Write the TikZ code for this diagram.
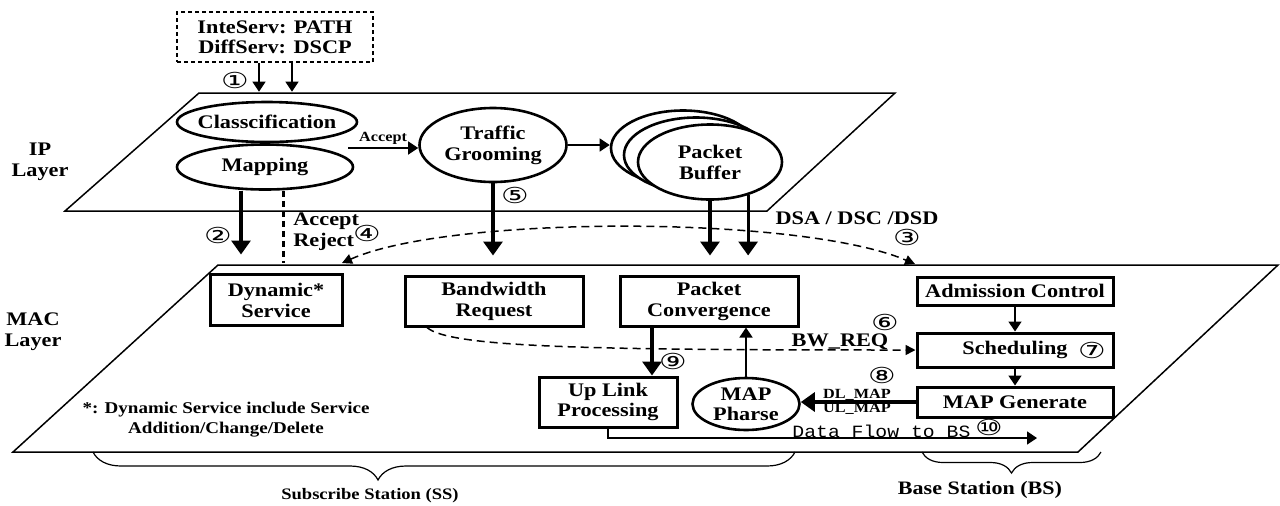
\documentclass[tikz,border=0pt]{standalone}
\usepackage{fontspec}
\setmainfont{Liberation Serif}[FakeStretch=1.16]
\setmonofont{Liberation Mono}[FakeStretch=1.15]
\newfontfamily\circfont{DejaVu Sans}[FakeStretch=1.4]
\usetikzlibrary{arrows.meta,shapes.geometric,decorations.pathreplacing}

\tikzset{
  lbl/.style={font=\bfseries\fontsize{9.6}{10.5}\selectfont, align=center, inner sep=0pt},
  small/.style={font=\bfseries\fontsize{7}{7}\selectfont, align=center, inner sep=0pt},
  num/.style={font=\circfont\fontsize{11}{11}\selectfont, inner sep=0pt},
  box/.style={lbl, draw, line width=1.5pt, fill=white},
  oval/.style={lbl, draw, ellipse, line width=1.3pt, fill=white},
  plane/.style={line width=0.75pt},
  arr/.style={line width=0.75pt, -{Triangle[length=5pt,width=6.5pt]}},
  fat/.style={line width=1.6pt, -{Triangle[length=7pt,width=9.5pt]}},
  dashline/.style={line width=0.75pt, dash pattern=on 4pt off 2.5pt},
  bracket/.style={line width=0.6pt, decorate},
}

\begin{document}
\begin{tikzpicture}[x=0.5pt, y=-0.5pt]
\useasboundingbox (0,0) rectangle (1280,505);

\draw[plane] (199,93) -- (895,93) -- (767,211) -- (65,211) -- cycle;
\draw[plane] (218,265) -- (1278,265) -- (1078,452) -- (13,452) -- cycle;

\node[lbl] (iplayer) at (40,162) {IP\\Layer};
\node[lbl] (maclayer) at (33,332) {MAC\\Layer};

\node[lbl, draw, line width=0.8pt, dash pattern=on 2pt off 1.5pt, minimum width=98pt, minimum height=25pt, font=\bfseries\fontsize{9.6}{10}\selectfont] (qos) at (275,37) {InteServ: PATH\\DiffServ: DSCP};

\node[oval, minimum width=90pt, minimum height=20pt, inner xsep=-4pt] (classif) at (267,122) {Classcification};
\node[oval, minimum width=88pt, minimum height=22.5pt] (mapping) at (265,167) {Mapping};
\node[oval, minimum width=73.5pt, minimum height=37pt] (groom) at (493,145) {Traffic\\Grooming};
\node[oval, minimum width=72pt, minimum height=37.5pt] (bufback) at (683,148) {};
\node[oval, minimum width=72pt, minimum height=37.5pt] (bufmid) at (696,155) {};
\node[oval, minimum width=72pt, minimum height=37.5pt] (buffer) at (710,162) {Packet\\Buffer};

\node[box, minimum width=66pt, minimum height=25.5pt] (dyn) at (276,300) {Dynamic*\\Service};
\node[box, minimum width=89pt, minimum height=25pt] (bwreq) at (494,301) {Bandwidth\\Request};
\node[box, minimum width=89pt, minimum height=25pt] (pconv) at (709,301) {Packet\\Convergence};
\node[box, minimum width=98pt, minimum height=14pt] (admit) at (1015,291) {Admission Control};
\node[box, minimum width=98pt, minimum height=17pt] (sched) at (1015,350) {Scheduling};
\node[box, minimum width=98pt, minimum height=15pt] (mapgen) at (1015,402) {MAP Generate};
\node[box, minimum width=69pt, minimum height=25pt, font=\bfseries\fontsize{9.6}{10}\selectfont] (uplink) at (608,402) {Up Link\\Processing};
\node[oval, minimum width=53.5pt, minimum height=26pt, font=\bfseries\fontsize{9.6}{10}\selectfont] (mapph) at (746,404) {MAP\\Pharse};

\draw[arr, shorten >=4.5pt] ([xshift=-8pt]qos.south) -- ([xshift=-8pt]qos.south |- classif.north);
\draw[arr, shorten >=4.5pt] ([xshift=8.5pt]qos.south) -- ([xshift=8.5pt]qos.south |- classif.north);

\coordinate (acc) at (348,148);
\draw[arr] (acc) -- (acc -| groom.west) node[small, midway, above=1.5pt] {Accept};
\draw[arr] (groom.east) -- (groom.east -| bufback.west);

\draw[fat, shorten >=9.25pt] ([xshift=-12pt]mapping.south) -- ([xshift=-12pt]mapping.south |- dyn.north);
\draw[line width=1.5pt, dash pattern=on 3pt off 2pt, shorten >=5pt] ([xshift=9pt]mapping.south) -- ([xshift=9pt]mapping.south |- dyn.north);
\draw[fat, shorten >=9.5pt] (groom.south) -- (groom.south |- bwreq.north);
\draw[fat, shorten >=9.5pt] (buffer.south) -- (buffer.south |- pconv.north);
\draw[fat, shorten >=9.5pt] (buffer.-41) -- (buffer.-41 |- pconv.north);

\coordinate (dsal) at (342,263);
\coordinate (dsar) at (915,264);
\draw[dashline, {Triangle[length=5pt,width=5pt]}-{Triangle[length=5pt,width=5pt]}] (dsal) .. controls (450,215) and (800,215) .. (dsar);
\draw[dashline, -{Triangle[length=5pt,width=5pt]}] ([xshift=-33.5pt]bwreq.south) .. controls (450,348) and (600,350) .. (sched.west);

\draw[arr] (admit) -- (sched);
\draw[arr] (sched) -- (mapgen);
\draw[fat] (mapgen.west) -- (mapgen.west -| mapph.east);
\draw[arr] (mapph.north) -- (mapph.north |- pconv.south);
\draw[fat] ([xshift=-28.5pt]pconv.south) -- ([xshift=-28.5pt]pconv.south |- uplink.north);
\coordinate (dfend) at (1037,438);
\draw[arr] (uplink.south) |- (dfend);

\node[lbl, align=left, anchor=west] (accrej) at (293,232) {Accept\\Reject};
\node[lbl] (dsalbl) at (857,218) {DSA / DSC /DSD};
\node[lbl] (bwlbl) at (840,342) {BW\_REQ};
\node[small] (maplbl) at (857,402) {DL\_MAP\\UL\_MAP};
\node[font=\ttfamily\fontsize{8.6}{8.6}\selectfont, anchor=base west, inner sep=0pt] (dflbl) at (792,437) {Data Flow to BS};
\node[font=\bfseries\fontsize{8.2}{10}\selectfont, align=center, inner sep=0pt] (note) at (226,420) {*: Dynamic Service include Service\\Addition/Change/Delete};

\node[num] (n1) at (235,80) {①};
\node[num] (n2) at (218,235) {②};
\node[num] (n3) at (907,237) {③};
\node[num] (n4) at (367,233) {④};
\node[num] (n5) at (515,195) {⑤};
\node[num] (n6) at (885,322) {⑥};
\node[num] (n7) at (1092,350) {⑦};
\node[num] (n8) at (882,375) {⑧};
\node[num] (n9) at (673,361) {⑨};
\node[num] (n10) at (989,427) {⑩};

\draw[bracket, decoration={brace, mirror, amplitude=14pt, aspect=0.406}] (93,452) -- (795,452);
\draw[bracket, decoration={brace, mirror, amplitude=10.5pt}] (922,452) -- (1101,452);
\node[font=\bfseries\fontsize{8}{8}\selectfont, inner sep=0pt] (sslbl) at (370,496) {Subscribe Station (SS)};
\node[font=\bfseries\fontsize{9.5}{9.5}\selectfont, inner sep=0pt] (bslbl) at (980,490) {Base Station (BS)};

\end{tikzpicture}
\end{document}
